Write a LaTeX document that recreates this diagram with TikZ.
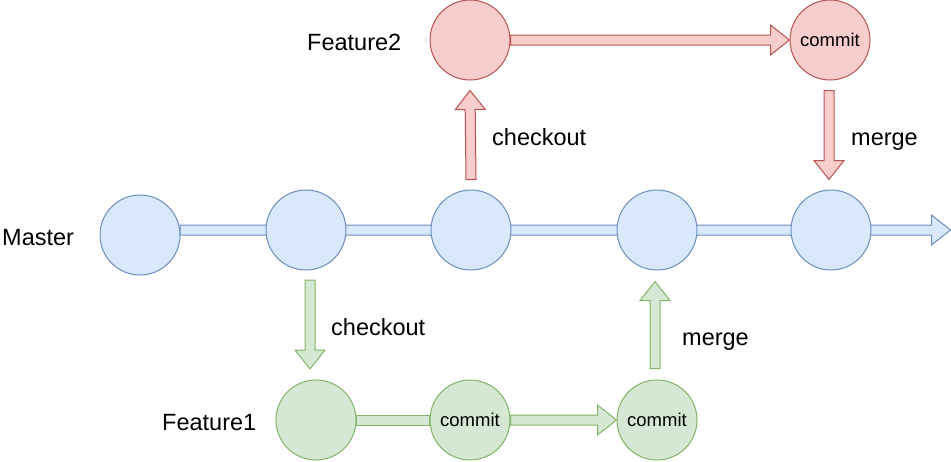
\documentclass[tikz,border=0pt]{standalone}
\usepackage{fontspec}
\setmainfont{Liberation Sans}
\usetikzlibrary{calc}
\definecolor{bfill}{HTML}{DAE8FC}
\definecolor{bline}{HTML}{6C8EBF}
\definecolor{rfill}{HTML}{F8CECC}
\definecolor{rline}{HTML}{B85450}
\definecolor{gfill}{HTML}{D5E8D4}
\definecolor{gline}{HTML}{82B366}
\newcommand\fatarrow[3]{%
  \coordinate (tmpH) at ($(#3)!19pt!(#2)$);
  \draw[#1] ($(#2)!5pt!90:(#3)$) -- ($(tmpH)!5pt!90:(#3)$) -- ($(tmpH)!15pt!90:(#3)$) -- (#3)
    -- ($(tmpH)!15pt!-90:(#3)$) -- ($(tmpH)!5pt!-90:(#3)$) -- ($(#2)!5pt!-90:(#3)$) -- cycle;}
\newcommand\fatbar[3]{%
  \draw[#1] ($(#2)!5pt!90:(#3)$) -- ($(#3)!5pt!-90:(#2)$) -- ($(#3)!5pt!90:(#2)$) -- ($(#2)!5pt!-90:(#3)$) -- cycle;}
\begin{document}
\begin{tikzpicture}[x=1pt,y=-1pt,
  commitnode/.style={circle, minimum size=80pt, inner sep=0pt, line width=1pt, font=\fontsize{18.5}{20}\selectfont},
  mnode/.style={commitnode, fill=bfill, draw=bline},
  rnode/.style={commitnode, fill=rfill, draw=rline},
  gnode/.style={commitnode, fill=gfill, draw=gline},
  barrow/.style={fill=bfill, draw=bline, line width=1pt, line join=miter},
  rarrow/.style={fill=rfill, draw=rline, line width=1pt, line join=miter},
  garrow/.style={fill=gfill, draw=gline, line width=1pt, line join=miter},
  lbl/.style={anchor=base west, inner sep=0pt, font=\fontsize{23.5}{26}\selectfont}]
\fill[white] (0,0) rectangle (951,461);
\useasboundingbox (0,0) rectangle (951,461);

% coordinates for connector ends
\coordinate (mstart) at (180,230);
\coordinate (mend) at (950.5,230);
\coordinate (gcoTop) at (310,280);
\coordinate (gcoTip) at (310,369);

% master line (behind circles)
\fatarrow{barrow}{mstart}{mend}

% circles
\node[mnode] (m1) at (140,235) {};
\node[mnode] (m2) at (306,230) {};
\node[mnode] (m3) at (471,230) {};
\node[mnode] (m4) at (657,230) {};
\node[mnode] (m5) at (831,230) {};
\node[rnode] (f2) at (470,40) {};
\node[rnode] (c2) at (830,40) {commit};
\node[gnode] (g1) at (316,420) {};
\node[gnode] (g2) at (470,420) {commit};
\node[gnode] (g3) at (657,420) {commit};

% red branch
\fatarrow{rarrow}{f2.east}{c2.west}
\coordinate (rcoBot) at ($(m3.north)+(0,-10)$);
\coordinate (rcoTip) at ($(f2.south)+(0,10)$);
\fatarrow{rarrow}{rcoBot}{rcoTip}
\coordinate (rmTop) at ($(c2.south)+(-1,10)$);
\coordinate (rmTip) at ($(m5.north)+(-2,-10)$);
\fatarrow{rarrow}{rmTop}{rmTip}

% green branch
\fatarrow{garrow}{gcoTop}{gcoTip}
\fatbar{garrow}{g1.east}{g2.west}
\fatarrow{garrow}{g2.east}{g3.west}
\coordinate (gmBot) at ($(g3.north)+(-2,-11)$);
\coordinate (gmTip) at ($(m4.south)+(-2,11)$);
\fatarrow{garrow}{gmBot}{gmTip}

% labels
\node[lbl] (lmaster) at (2,245) {Master};
\node[lbl] (lf2) at (307,50) {Feature2};
\node[lbl] (lf1) at (162,430) {Feature1};
\node[lbl] (lrco) at (492,145) {checkout};
\node[lbl] (lrm) at (851,145) {merge};
\node[lbl] (lgco) at (331,335) {checkout};
\node[lbl] (lgm) at (682,345) {merge};
\end{tikzpicture}
\end{document}
